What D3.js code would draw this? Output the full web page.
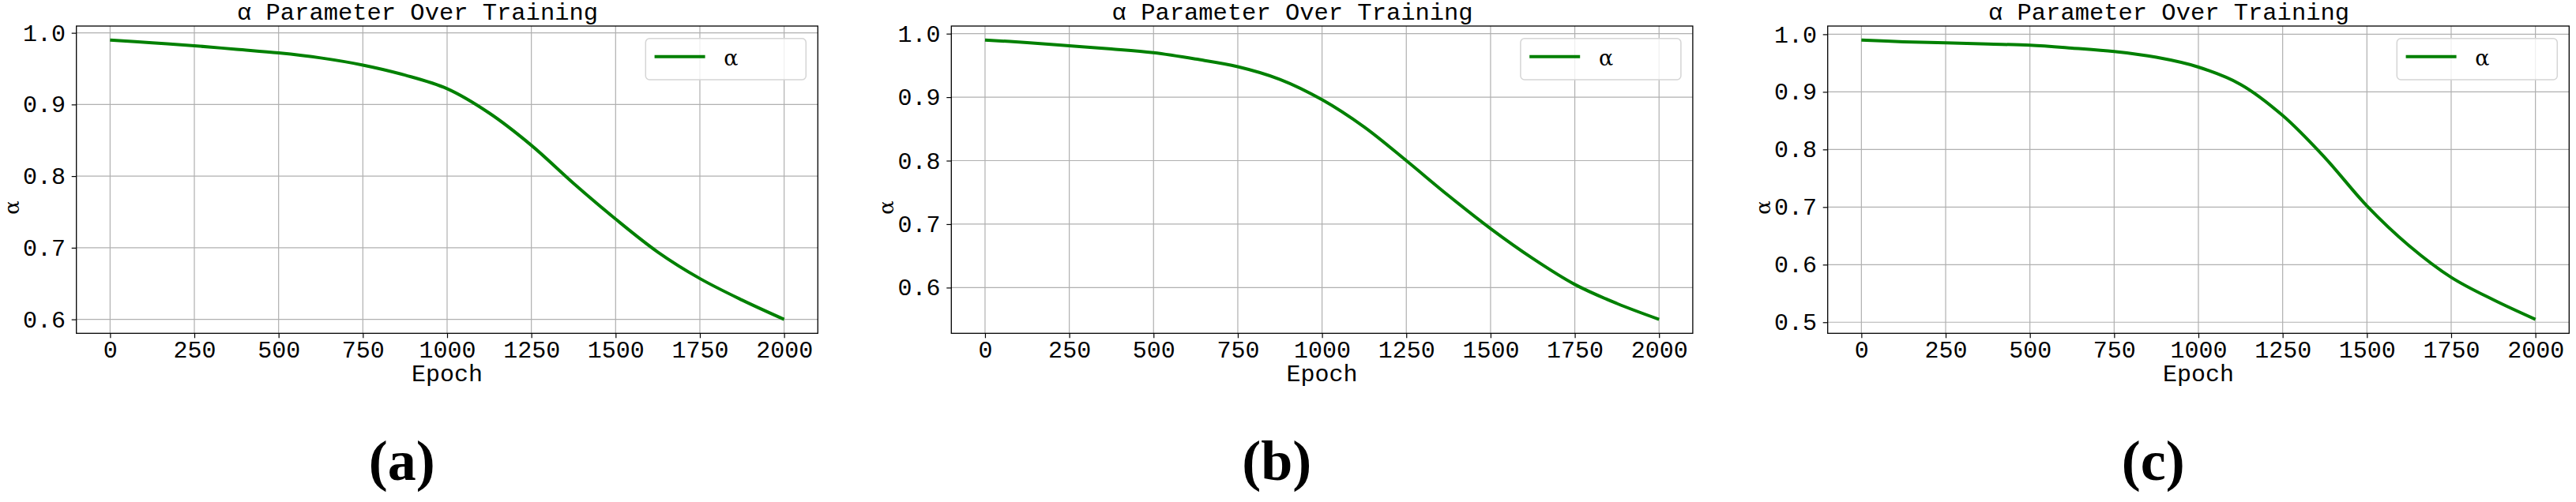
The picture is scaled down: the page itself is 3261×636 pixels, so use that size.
<!DOCTYPE html>
<html>
<head>
<meta charset="utf-8">
<script src="https://cdn.jsdelivr.net/npm/d3@7"></script>
<style>
  html, body { margin: 0; padding: 0; background: #fff; }
  svg { display: block; }
</style>
</head>
<body>
<svg id="chart" width="3261" height="636"></svg>
<script>
// ---- data ----
const epochs = [0, 125, 250, 375, 500, 625, 750, 875, 1000, 1125, 1250, 1375, 1500, 1625, 1750, 1875, 2000];
const alphaA = [0.990, 0.986, 0.982, 0.977, 0.972, 0.965, 0.955, 0.941, 0.922, 0.888, 0.843, 0.790, 0.740, 0.694, 0.657, 0.627, 0.600];
const alphaB = [0.990, 0.986, 0.981, 0.976, 0.970, 0.960, 0.948, 0.928, 0.896, 0.853, 0.800, 0.745, 0.693, 0.646, 0.605, 0.575, 0.550];
const alphaC = [0.990, 0.987, 0.985, 0.983, 0.981, 0.976, 0.970, 0.960, 0.943, 0.913, 0.859, 0.786, 0.702, 0.633, 0.578, 0.539, 0.505];
const xTicks = [0, 250, 500, 750, 1000, 1250, 1500, 1750, 2000];
const yTicksA = [0.6, 0.7, 0.8, 0.9, 1.0];
const yTicksB = [0.6, 0.7, 0.8, 0.9, 1.0];
const yTicksC = [0.5, 0.6, 0.7, 0.8, 0.9, 1.0];
const panelLabels = ["(a)", "(b)", "(c)"];
const titleText = "α Parameter Over Training";
const xLabelText = "Epoch";
const yLabelText = "α";
const legendText = "α";

const panels = [
  { values: alphaA, yTicks: yTicksA, label: panelLabels[0], left: 96.7 },
  { values: alphaB, yTicks: yTicksB, label: panelLabels[1], left: 1204.3 },
  { values: alphaC, yTicks: yTicksC, label: panelLabels[2], left: 2313.7 }
];

const monoFont = "'Courier New', 'Liberation Mono', monospace";
const svg = d3.select("#chart");
const W = 938.6, plotTop = 33, plotBottom = 422.3;

panels.forEach(p => {
  const g = svg.append("g");
  const x = d3.scaleLinear().domain([-100, 2100]).range([p.left, p.left + W]);
  const lo = d3.min(p.values), hi = d3.max(p.values), m = (hi - lo) * 0.05;
  const y = d3.scaleLinear().domain([lo - m, hi + m]).range([plotBottom, plotTop]);

  // grid
  g.append("g").selectAll("line").data(xTicks).join("line")
    .attr("x1", d => x(d)).attr("x2", d => x(d))
    .attr("y1", plotTop).attr("y2", plotBottom)
    .attr("stroke", "#b0b0b0").attr("stroke-width", 1.2);
  g.append("g").selectAll("line").data(p.yTicks).join("line")
    .attr("x1", p.left).attr("x2", p.left + W)
    .attr("y1", d => y(d)).attr("y2", d => y(d))
    .attr("stroke", "#b0b0b0").attr("stroke-width", 1.2);

  // line
  const line = d3.line().x((d, i) => x(epochs[i])).y(d => y(d)).curve(d3.curveCatmullRom.alpha(0.5));
  g.append("path").datum(p.values).attr("d", line)
    .attr("fill", "none").attr("stroke", "#008000").attr("stroke-width", 4);

  // axes
  const xa = g.append("g").attr("transform", `translate(0,${plotBottom})`)
    .call(d3.axisBottom(x).tickValues(xTicks).tickSize(6).tickPadding(3).tickFormat(d3.format("d")));
  const ya = g.append("g").attr("transform", `translate(${p.left},0)`)
    .call(d3.axisLeft(y).tickValues(p.yTicks).tickSize(6).tickPadding(7.7).tickFormat(d3.format(".1f")));
  [xa, ya].forEach(a => {
    a.select(".domain").remove();
    a.selectAll("line").attr("stroke", "#000").attr("stroke-width", 1.2);
    a.selectAll("text").attr("font-family", monoFont).attr("font-size", 30).attr("fill", "#000");
  });

  // spines
  g.append("rect").attr("x", p.left).attr("y", plotTop).attr("width", W).attr("height", plotBottom - plotTop)
    .attr("fill", "none").attr("stroke", "#000").attr("stroke-width", 1.3);

  // legend
  const lx = p.left + W - 15 - 203;
  g.append("rect").attr("x", lx).attr("y", 48.7).attr("width", 203).attr("height", 52.3)
    .attr("rx", 5).attr("fill", "rgba(255,255,255,0.8)").attr("stroke", "#d5d5d5").attr("stroke-width", 1.5);
  g.append("line").attr("x1", lx + 11.3).attr("x2", lx + 75.3).attr("y1", 71.7).attr("y2", 71.7)
    .attr("stroke", "#008000").attr("stroke-width", 4);
  g.append("text").attr("x", lx + 99).attr("y", 82.7).text(legendText)
    .attr("font-family", "'DejaVu Serif', serif").attr("font-size", 27).attr("fill", "#000");

  // title
  g.append("text").attr("x", p.left + 203.3).attr("y", 25).text(titleText)
    .attr("font-family", monoFont).attr("font-size", 30).attr("fill", "#000")
    .attr("textLength", 457).attr("lengthAdjust", "spacingAndGlyphs");

  // axis labels
  g.append("text").attr("x", p.left + W / 2).attr("y", 482.7).attr("text-anchor", "middle")
    .text(xLabelText).attr("font-family", monoFont).attr("font-size", 30).attr("fill", "#000");
  g.append("text").attr("transform", `translate(${p.left - 82},263) rotate(-90)`)
    .attr("text-anchor", "middle").attr("dominant-baseline", "central")
    .text(yLabelText).attr("font-family", "'DejaVu Serif', serif").attr("font-size", 26).attr("fill", "#000");

  // panel label
  g.append("text").attr("x", p.left + 412).attr("y", 608).attr("text-anchor", "middle")
    .text(p.label).attr("font-family", "'Liberation Serif', 'Times New Roman', serif")
    .attr("font-weight", "bold").attr("font-size", 72).attr("fill", "#000");
});
</script>
</body>
</html>
